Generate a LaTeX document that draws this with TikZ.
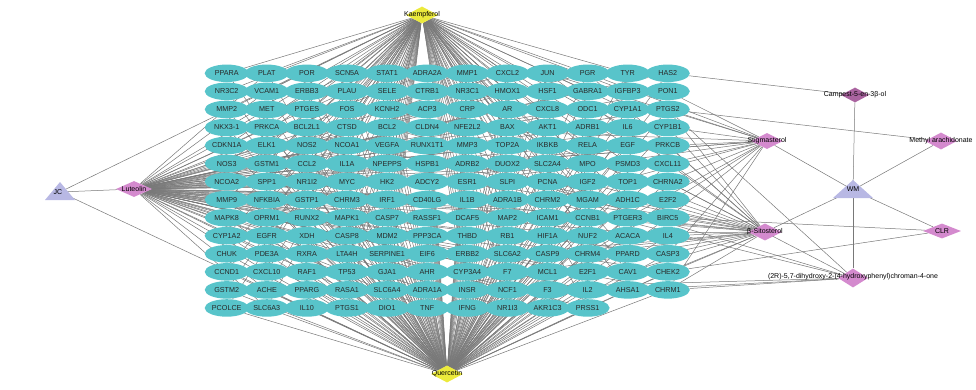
\documentclass[tikz,border=0pt]{standalone}
\usepackage{fontspec}
\setmainfont{Liberation Sans}
\usetikzlibrary{shapes.geometric,backgrounds}
\definecolor{genefill}{RGB}{88,196,202}
\definecolor{genetext}{RGB}{40,40,40}
\definecolor{edgecol}{RGB}{120,120,120}
\definecolor{yel}{RGB}{236,234,60}
\definecolor{pink}{RGB}{212,138,206}
\definecolor{darkpink}{RGB}{170,100,160}
\definecolor{lav}{RGB}{184,184,228}
\begin{document}
\begin{tikzpicture}[x=1pt,y=1pt,
  gene/.style={ellipse,fill=genefill,minimum width=44pt,minimum height=17.5pt,inner sep=0pt,
    font=\fontsize{7.2}{8}\selectfont,text=genetext},
  diam/.style={diamond,inner sep=0pt,minimum width=32pt,minimum height=17pt},
  lbl/.style={inner sep=0pt,font=\fontsize{7}{8}\selectfont,text=black},
  edge/.style={draw=edgecol,line width=0.5pt},
  tri/.style={fill=lav}]
\useasboundingbox (0,0) rectangle (976,-389);
% gene grid
\foreach \nm [count=\i from 0] in {
PPARA,PLAT,POR,SCN5A,STAT1,ADRA2A,MMP1,CXCL2,JUN,PGR,TYR,HAS2,
NR3C2,VCAM1,ERBB3,PLAU,SELE,CTRB1,NR3C1,HMOX1,HSF1,GABRA1,IGFBP3,PON1,
MMP2,MET,PTGES,FOS,KCNH2,ACP3,CRP,AR,CXCL8,ODC1,CYP1A1,PTGS2,
NKX3-1,PRKCA,BCL2L1,CTSD,BCL2,CLDN4,NFE2L2,BAX,AKT1,ADRB1,IL6,CYP1B1,
CDKN1A,ELK1,NOS2,NCOA1,VEGFA,RUNX1T1,MMP3,TOP2A,IKBKB,RELA,EGF,PRKCB,
NOS3,GSTM1,CCL2,IL1A,NPEPPS,HSPB1,ADRB2,DUOX2,SLC2A4,MPO,PSMD3,CXCL11,
NCOA2,SPP1,NR1I2,MYC,HK2,ADCY2,ESR1,SLPI,PCNA,IGF2,TOP1,CHRNA2,
MMP9,NFKBIA,GSTP1,CHRM3,IRF1,CD40LG,IL1B,ADRA1B,CHRM2,MGAM,ADH1C,E2F2,
MAPK8,OPRM1,RUNX2,MAPK1,CASP7,RASSF1,DCAF5,MAP2,ICAM1,CCNB1,PTGER3,BIRC5,
CYP1A2,EGFR,XDH,CASP8,MDM2,PPP3CA,THBD,RB1,HIF1A,NUF2,ACACA,IL4,
CHUK,PDE3A,RXRA,LTA4H,SERPINE1,EIF6,ERBB2,SLC6A2,CASP9,CHRM4,PPARD,CASP3,
CCND1,CXCL10,RAF1,TP53,GJA1,AHR,CYP3A4,F7,MCL1,E2F1,CAV1,CHEK2,
GSTM2,ACHE,PPARG,RASA1,SLC6A4,ADRA1A,INSR,NCF1,F3,IL2,AHSA1,CHRM1,
PCOLCE,SLC6A3,IL10,PTGS1,DIO1,TNF,IFNG,NR1I3,AKR1C3,PRSS1}{
  \pgfmathtruncatemacro\r{int(\i/12)}
  \pgfmathtruncatemacro\c{mod(\i,12)}
  \node[gene] (g\i) at ({226.7+40.1*\c},{-73.3-18.05*\r}) {\nm};
}
% compounds
\node[diam,fill=yel] (k) at (422,-15) {};
\node[lbl] (kL) at (k) {Kaempferol};
\node[diam,fill=yel] (q) at (447,-374) {};
\node[lbl] (qL) at (q) {Quercetin};
\node[diam,fill=pink,minimum width=36pt,minimum height=16pt] (lu) at (134,-189) {};
\node[lbl] (luL) at (lu) {Luteolin};
\node[diam,fill=darkpink,minimum width=28pt,minimum height=15pt] (cp) at (855,-95) {};
\node[lbl] (cpL) at (cp) {Campest-5-en-3β-ol};
\node[diam,fill=pink,minimum width=32pt,minimum height=16pt] (st) at (767,-141) {};
\node[lbl] (stL) at (st) {Stigmasterol};
\node[diam,fill=pink,minimum width=32pt,minimum height=17pt] (ma) at (941,-141) {};
\node[lbl] (maL) at (ma) {Methyl arachidonate};
\node[diam,fill=pink,minimum width=38pt,minimum height=15pt] (clr) at (942,-231) {};
\node[lbl] (clrL) at (clr) {CLR};
\node[diam,fill=pink,minimum width=34pt,minimum height=17pt] (bs) at (765,-232) {};
\node[lbl] (bsL) at (bs) {β-Sitosterol};
\node[diam,fill=pink,minimum width=30pt,minimum height=19pt] (dh) at (853,-278) {};
\node[lbl] (dhL) at (853,-277) {(2R)-5,7-dihydroxy-2-(4-hydroxyphenyl)chroman-4-one};
% herbs (triangles)
\coordinate (jc) at (60,-192);
\coordinate (wm) at (853,-190);
\begin{pgfonlayer}{background}
\foreach \i in {0,...,165}{
  \draw[edge] (q) -- (g\i);
  \pgfmathtruncatemacro\mk{mod(\i,3)}
  \ifnum\mk=2 \else \draw[edge] (k) -- (g\i);\fi
  \pgfmathtruncatemacro\ml{mod(\i,2)}
  \ifnum\ml=1 \draw[edge] (lu) -- (g\i);\fi
}
\foreach \i in {9,35,47,59,66,72,78,83,92,106,129,131,155,40,8,23,71,107}{\draw[edge] (st) -- (g\i);}
\foreach \i in {9,35,40,43,8,37,66,72,78,83,87,92,95,106,111,119,127,128,129,131,143,149,155,154,142,47,59,71}{\draw[edge] (bs) -- (g\i);}
\foreach \i in {78,83,154,155,66,35,149}{\draw[edge] (dh) -- (g\i);}
\foreach \i in {107,143}{\draw[edge] (clr) -- (g\i);}
\draw[edge] (ma) -- (g35);
\draw[edge] (cp) -- (g11);
\draw[edge] (jc) -- (lu);
\draw[edge] (jc) -- (k);
\draw[edge] (jc) -- (q);
\foreach \t in {cp,st,ma,bs,clr,dh}{\draw[edge] (wm) -- (\t);}
\end{pgfonlayer}
\fill[tri] (jc) ++(-15,-8) -- ++(30,0) -- ++(-15,18) -- cycle;
\node[lbl] (jcL) at (58,-192) {JC};
\fill[tri] (wm) ++(-20,-8) -- ++(40,0) -- ++(-20,18) -- cycle;
\node[lbl] (wmL) at (853,-189) {WM};
\end{tikzpicture}
\end{document}
